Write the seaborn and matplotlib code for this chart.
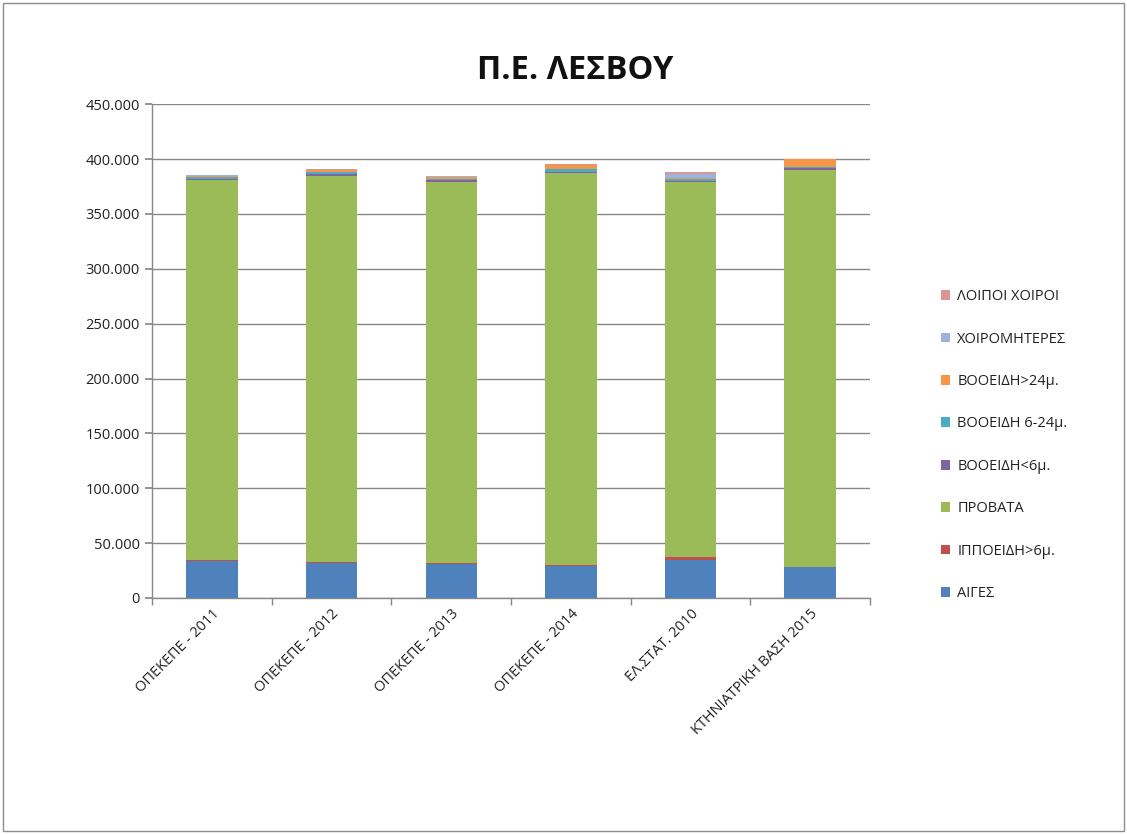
import numpy as np
import pandas as pd
import matplotlib
matplotlib.use('Agg')
import matplotlib.pyplot as plt
import matplotlib.patches as patches
from matplotlib.ticker import FuncFormatter, FixedLocator
import seaborn as sns

# categories and series
categories = ['ΟΠΕΚΕΠΕ - 2011', 'ΟΠΕΚΕΠΕ - 2012', 'ΟΠΕΚΕΠΕ - 2013',
              'ΟΠΕΚΕΠΕ - 2014', 'ΕΛ.ΣΤΑΤ. 2010', 'ΚΤΗΝΙΑΤΡΙΚΗ ΒΑΣΗ 2015']
series_names = ['ΑΙΓΕΣ', 'ΙΠΠΟΕΙΔΗ>6μ.', 'ΠΡΟΒΑΤΑ', 'ΒΟΟΕΙΔΗ<6μ.',
                'ΒΟΟΕΙΔΗ 6-24μ.', 'ΒΟΟΕΙΔΗ>24μ.', 'ΧΟΙΡΟΜΗΤΕΡΕΣ', 'ΛΟΙΠΟΙ ΧΟΙΡΟΙ']
aiges = [34000, 32000, 31000, 29500, 35000, 28000]
ippoeidi = [800, 800, 700, 600, 2000, 500]
provata = [346500, 352000, 347000, 357000, 341700, 362000]
vooeidi_6 = [1000, 2000, 2000, 1000, 1500, 1000]
vooeidi_6_24 = [1000, 1000, 1000, 3000, 2000, 1000]
vooeidi_24 = [1500, 2000, 2000, 3500, 500, 7500]
xoiromiteres = [500, 500, 500, 0, 4000, 0]
loipoi_xoiroi = [500, 700, 300, 500, 2000, 500]
yticks = [0, 50000, 100000, 150000, 200000, 250000, 300000, 350000, 400000, 450000]

colors = ['#4F81BD', '#C0504D', '#9BBB59', '#8064A2',
          '#4BACC6', '#F79646', '#9DB3DB', '#D99694']

sns.set_theme(style='white')
plt.rcParams['font.family'] = ['Open Sans', 'DejaVu Sans']

values = [aiges, ippoeidi, provata, vooeidi_6, vooeidi_6_24,
          vooeidi_24, xoiromiteres, loipoi_xoiroi]
df = pd.DataFrame(dict(zip(series_names, values)), index=categories)
cum = df.cumsum(axis=1)

fig = plt.figure(figsize=(11.27, 8.34), dpi=100)
ax = fig.add_axes([0.135, 0.283, 0.637, 0.592])

# stacked bars: draw cumulative totals from top layer down
for name, color in reversed(list(zip(series_names, colors))):
    plot_df = pd.DataFrame({'cat': categories, 'val': cum[name].values})
    sns.barplot(data=plot_df, x='cat', y='val', color=color, width=0.43,
                saturation=1, ax=ax, zorder=3, label=name, linewidth=0)

ax.set_ylim(0, 450000)
ax.set_xlim(-0.5, len(categories) - 0.5)
ax.yaxis.set_major_locator(FixedLocator(yticks))
ax.yaxis.set_major_formatter(FuncFormatter(lambda v, p: f"{int(v):,}".replace(',', '.')))
ax.grid(axis='y', color='#878787', linewidth=1, zorder=0)
ax.set_axisbelow(True)
ax.set_xlabel('')
ax.set_ylabel('')

for s in ['top', 'right']:
    ax.spines[s].set_visible(False)
for s in ['left', 'bottom']:
    ax.spines[s].set_color('#878787')
    ax.spines[s].set_linewidth(1)

ax.tick_params(axis='y', which='major', left=True, length=5, color='#878787',
               labelsize=10.5, labelcolor='#222222', pad=4)
ax.tick_params(axis='x', which='major', bottom=False, length=0, labelsize=10.5,
               labelcolor='#222222', pad=6)
ax.set_xticks(np.arange(-0.5, len(categories)), minor=True)
ax.tick_params(axis='x', which='minor', bottom=True, length=5, color='#878787')
for lbl in ax.get_xticklabels():
    lbl.set_rotation(45)
    lbl.set_ha('right')
    lbl.set_rotation_mode('anchor')

handles, labels = ax.get_legend_handles_labels()
order = [labels.index(n) for n in reversed(series_names)]
ax.legend([handles[i] for i in order], [labels[i] for i in order],
          loc='upper left', bbox_to_anchor=(1.08, 0.652), frameon=False,
          fontsize=10.5, labelspacing=1.88, handlelength=0.65, handleheight=0.65,
          handletextpad=0.5, labelcolor='#222222')

fig.text(0.51, 0.916, 'Π.Ε. ΛΕΣΒΟΥ', ha='center', va='center',
         fontsize=23.5, fontweight='bold', color='#111111')

fig.patches.append(patches.Rectangle((0.003, 0.004), 0.994, 0.992, transform=fig.transFigure,
                                     fill=False, edgecolor='#8c8c8c', linewidth=1))

fig.savefig('out.png', dpi=100)
